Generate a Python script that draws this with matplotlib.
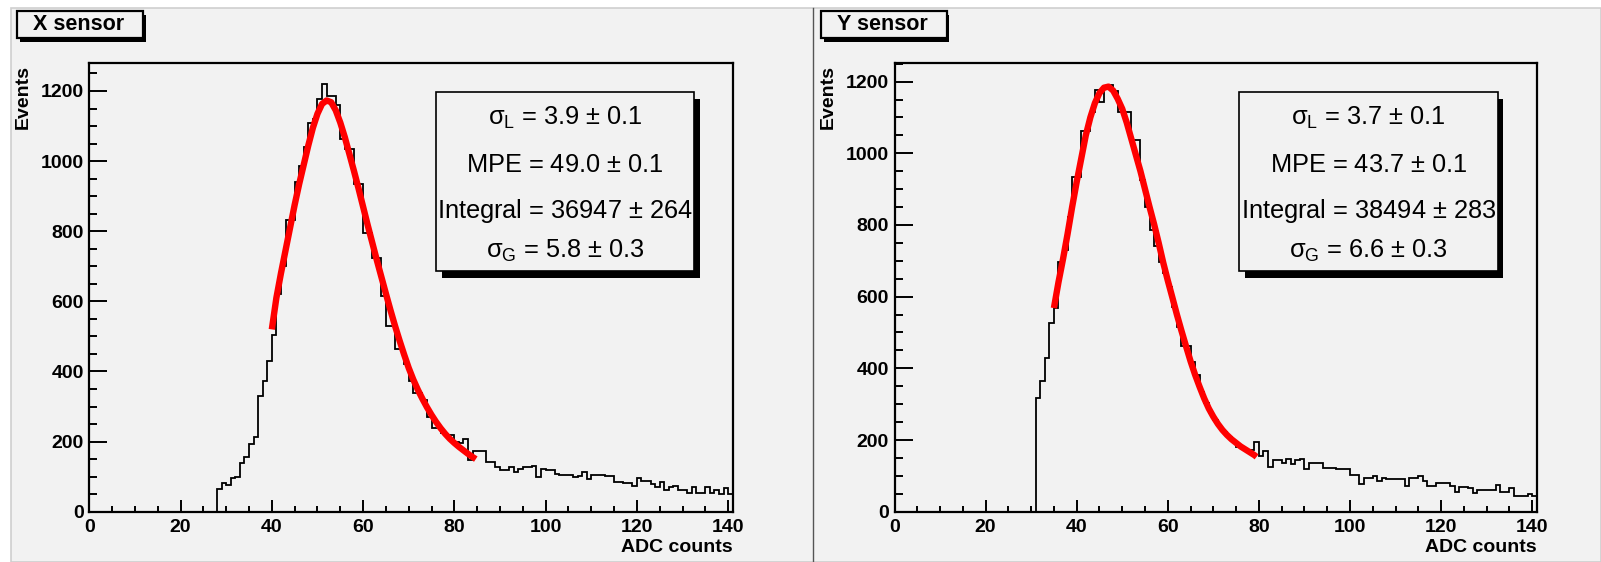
import matplotlib
matplotlib.use('Agg')
import matplotlib.pyplot as plt
from matplotlib.patches import Rectangle
from matplotlib.lines import Line2D
from matplotlib.ticker import MultipleLocator
import numpy as np

plt.rcParams['font.family'] = ['Liberation Sans', 'DejaVu Sans']
plt.rcParams['mathtext.fontset'] = 'custom'
plt.rcParams['mathtext.rm'] = 'Liberation Sans'
plt.rcParams['mathtext.it'] = 'Liberation Sans:italic'
plt.rcParams['mathtext.bf'] = 'Liberation Sans:bold'

# --- data (1-count wide bins, value = bin low edge) ---
x_first_bin = 28
x_counts = [64, 81, 76, 95, 98, 140, 156, 193, 212, 329,            # 28-37
            372, 431, 503, 620, 700, 832, 832, 940, 985, 1040,      # 38-47
            1110, 1120, 1176, 1221, 1185, 1185, 1159, 1063, 1035, 1035,  # 48-57
            935, 935, 795, 795, 725, 725, 615, 529, 529, 463,       # 58-67
            463, 420, 372, 339, 339, 320, 270, 239, 239, 225,       # 68-77
            219, 219, 200, 195, 208, 148, 172, 172, 172, 143,       # 78-87
            143, 127, 119, 119, 127, 114, 121, 127, 127, 131,       # 88-97
            98, 121, 119, 119, 108, 105, 105, 105, 100, 103,        # 98-107
            114, 93, 105, 105, 104, 103, 103, 86, 86, 81,           # 108-117
            81, 74, 95, 88, 88, 78, 70, 86, 62, 70,                 # 118-127
            74, 62, 62, 53, 70, 53, 53, 70, 53, 62,                 # 128-137
            51, 67, 51]                                             # 138-140

y_first_bin = 31
y_counts = [316, 366, 430, 526, 568, 698, 729, 823, 933, 933,      # 31-40
            1062, 1062, 1116, 1177, 1142, 1186, 1191, 1175, 1116, 1116,  # 41-50
            1116, 1037, 1037, 926, 851, 786, 740, 698, 665, 628,    # 51-60
            572, 516, 461, 461, 419, 382, 335, 302, 274, 256,       # 61-70
            237, 223, 209, 195, 180, 180, 172, 172, 195, 155,       # 71-80
            169, 126, 144, 144, 136, 146, 133, 144, 148, 118,       # 81-90
            135, 135, 135, 121, 121, 121, 118, 118, 118, 102,       # 91-100
            102, 77, 94, 94, 100, 87, 93, 91, 91, 91,               # 101-110
            91, 72, 93, 93, 99, 87, 72, 72, 79, 79,                 # 111-120
            79, 72, 56, 70, 70, 65, 53, 61, 61, 61,                 # 121-130
            61, 75, 56, 56, 65, 44, 44, 44, 50, 44]                 # 131-140

# fit curves
x_fit_adc = [40, 41, 42, 43, 44, 45, 46, 47, 48, 49, 50, 51, 52, 53, 54, 55, 56,
             57, 58, 59, 60, 61, 62, 63, 64, 65, 66, 67, 68, 69, 70, 71, 72, 73,
             74, 75, 76, 77, 78, 79, 80, 81, 82, 83, 84, 84.7]
x_fit_val = [520, 610, 680, 745, 810, 875, 935, 990, 1045, 1095, 1135, 1163,
             1173, 1168, 1145, 1110, 1068, 1020, 972, 922, 870, 818, 768, 718,
             670, 622, 575, 530, 488, 448, 410, 377, 348, 322, 298, 276, 256,
             238, 222, 208, 196, 185, 175, 165, 156, 150]

y_fit_adc = [35, 36, 37, 38, 39, 40, 41, 42, 43, 44, 45, 46, 47, 48, 49, 50, 51,
             52, 53, 54, 55, 56, 57, 58, 59, 60, 61, 62, 63, 64, 65, 66, 67, 68,
             69, 70, 71, 72, 73, 74, 75, 76, 77, 78, 79, 79.5]
y_fit_val = [568, 640, 705, 775, 850, 920, 985, 1050, 1100, 1140, 1168, 1183,
             1186, 1175, 1152, 1124, 1085, 1040, 995, 950, 900, 850, 802, 750,
             695, 645, 598, 550, 505, 462, 420, 382, 348, 316, 288, 265, 245,
             228, 214, 202, 192, 182, 174, 166, 158, 153]

titles = ['X sensor', 'Y sensor']
stats = [[r'$\mathrm{\sigma_L}$ = 3.9 $\pm$ 0.1', r'MPE = 49.0 $\pm$ 0.1',
          r'Integral = 36947 $\pm$ 264', r'$\mathrm{\sigma_G}$ = 5.8 $\pm$ 0.3'],
         [r'$\mathrm{\sigma_L}$ = 3.7 $\pm$ 0.1', r'MPE = 43.7 $\pm$ 0.1',
          r'Integral = 38494 $\pm$ 283', r'$\mathrm{\sigma_G}$ = 6.6 $\pm$ 0.3']]
y_tops = [1279, 1251]

W, H = 1601, 562
BG = '#f2f2f2'

def fx(px):
    return px / W

def fy(py):
    return 1 - py / H

def box(fig, x0, y0, x1, y1, dx, dy, lw):
    # ROOT style pave: black shadow then filled box
    fig.add_artist(Rectangle((fx(x0 + dx), fy(y1 + dy)), fx(x1 - x0), (y1 - y0) / H,
                             transform=fig.transFigure, facecolor='black',
                             edgecolor='none', zorder=5))
    fig.add_artist(Rectangle((fx(x0), fy(y1)), fx(x1 - x0), (y1 - y0) / H,
                             transform=fig.transFigure, facecolor=BG,
                             edgecolor='black', lw=lw, zorder=6))

fig = plt.figure(figsize=(W / 100, H / 100), dpi=100)
fig.patch.set_facecolor('white')
fig.add_artist(Rectangle((fx(11), 0), fx(W - 11), fy(8), transform=fig.transFigure,
                         facecolor=BG, edgecolor='#cfcfcf', lw=1.2, zorder=-10))
fig.add_artist(Line2D([fx(813), fx(813)], [0, fy(8)], transform=fig.transFigure,
                      color='#555555', lw=1.0, zorder=-9))

panels = [(89.3, 732.7, 17.3, 143.3, 436, 694, x_first_bin, x_counts, x_fit_adc, x_fit_val),
          (894.5, 1536.7, 821, 946.7, 1239.3, 1497.7, y_first_bin, y_counts, y_fit_adc, y_fit_val)]

for i, (ax0, ax1, tb0, tb1, sb0, sb1, first, counts, fit_x, fit_y) in enumerate(panels):
    ax = fig.add_axes([fx(ax0), fy(511.7), fx(ax1 - ax0), (511.7 - 63.3) / H])
    ax.set_facecolor(BG)
    edges = np.arange(first, first + len(counts) + 1)
    ax.stairs(counts, edges, color='black', lw=1.3, baseline=0)
    ax.plot(fit_x, fit_y, color='red', lw=4.6, solid_capstyle='butt', zorder=3)
    ax.set_xlim(0, 141)
    ax.set_ylim(0, y_tops[i])
    ax.xaxis.set_major_locator(MultipleLocator(20))
    ax.xaxis.set_minor_locator(MultipleLocator(5))
    ax.yaxis.set_major_locator(MultipleLocator(200))
    ax.yaxis.set_minor_locator(MultipleLocator(50))
    ax.tick_params(axis='both', which='both', direction='in', width=1.4)
    ax.tick_params(axis='y', which='major', length=13, pad=4)
    ax.tick_params(axis='y', which='minor', length=6)
    ax.tick_params(axis='x', which='major', length=8.6, pad=5)
    ax.tick_params(axis='x', which='minor', length=4.3)
    for lab in ax.get_xticklabels() + ax.get_yticklabels():
        lab.set_fontweight('bold')
        lab.set_fontsize(14)
    for sp in ax.spines.values():
        sp.set_linewidth(1.6)

    fig.text(fx(ax1), fy(547), 'ADC counts', ha='right', va='center',
             fontsize=14, fontweight='bold')
    fig.text(fx(ax0 - 66), fy(65), 'Events', ha='center', va='top', rotation=90,
             fontsize=14, fontweight='bold')

    # title pave
    box(fig, tb0, 11, tb1, 37.7, 2.5, 4, 1.6)
    fig.text(fx(tb0 + 16), fy(30), titles[i], ha='left', va='baseline',
             fontsize=15.5, fontweight='bold', zorder=7)

    # fit result pave
    box(fig, sb0, 92.3, sb1, 271, 5.5, 7, 1.2)
    for line, base in zip(stats[i], [125, 172, 218.3, 257.3]):
        fig.text(fx((sb0 + sb1) / 2), fy(base), line, ha='center', va='baseline',
                 fontsize=18.3, zorder=7)

fig.savefig('out.png', dpi=100)
